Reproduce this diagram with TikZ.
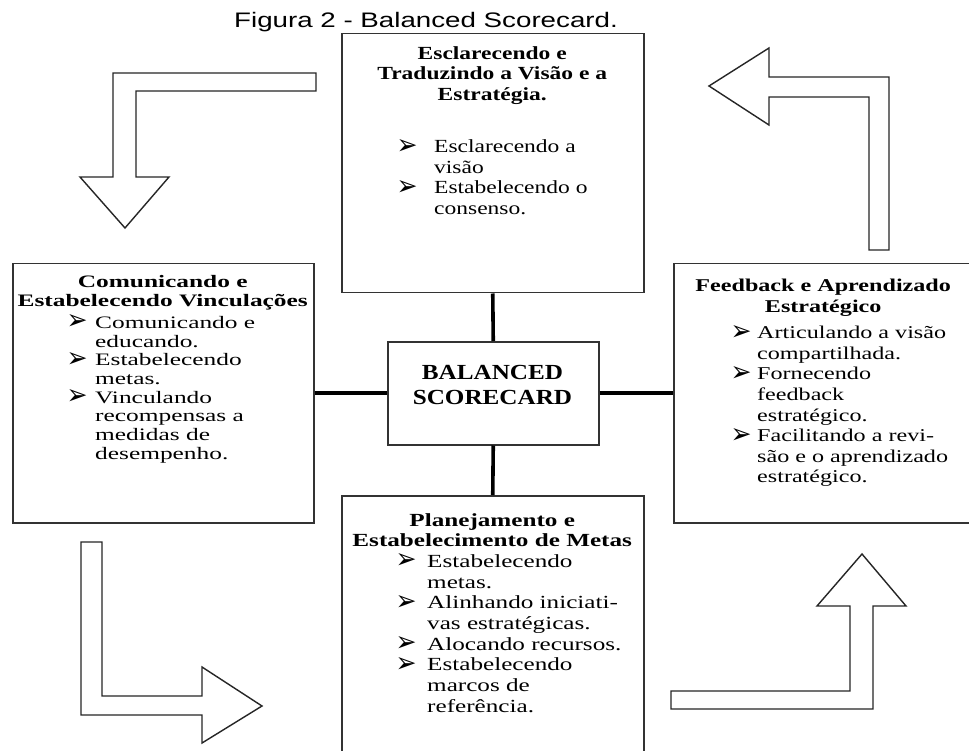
\documentclass[tikz,border=0pt]{standalone}
\usepackage{fontspec}
\setmainfont{Liberation Serif}
\newfontfamily\titlefont{Liberation Sans}[FakeStretch=1.32]
\newfontfamily\topfont{Liberation Serif}[FakeStretch=1.27]
\newfontfamily\leftfont{Liberation Serif}[FakeStretch=1.45]
\newfontfamily\rightfont{Liberation Serif}[FakeStretch=1.34]
\newfontfamily\botfont{Liberation Serif}[FakeStretch=1.36]
\newfontfamily\cenfont{Liberation Serif}[FakeStretch=1.17]
\newfontfamily\bulfont{DejaVu Sans}
\newcommand{\bul}{\smash{\raisebox{-1.5pt}{\resizebox{21pt}{15pt}{\bulfont ➢}}}}
\newcommand{\bi}[1]{\leavevmode\llap{\makebox[#1][l]{\hspace*{-1.5pt}\bul}}}
\begin{document}
\begin{tikzpicture}[x=1pt,y=-1pt,
  box/.style={draw=black!80, line width=1.5pt, rectangle, inner sep=0pt, anchor=north west},
  conn/.style={line width=3.6pt, black},
  blockarrow/.style={draw=black!85, line width=1.4pt, fill=white, line join=miter},
  txt/.style={inner sep=0pt, anchor=base west}]
\useasboundingbox (0,0) rectangle (969,751);
\fill[white] (0,0) rectangle (969,751);
\clip (0,0) rectangle (969,751);

% boxes
\node[box, minimum width=302pt, minimum height=259pt] (vis) at (341,33) {};
\node[box, minimum width=301pt, minimum height=259pt] (com) at (12,263) {};
\node[box, minimum width=300pt, minimum height=259pt] (fee) at (673,263) {};
\node[box, minimum width=302pt, minimum height=280pt] (pla) at (341,495) {};
\node[box, minimum width=211pt, minimum height=103pt] (bsc) at (387,341) {};

% connectors
\draw[conn] (vis.south) -- (bsc.north);
\draw[conn] (bsc.south) -- (pla.north);
\draw[conn] (com.east) -- (bsc.west);
\draw[conn] (bsc.east) -- (fee.west);

% title
\node[inner sep=0pt, anchor=base] (title) at (426,28)
  {\titlefont\fontsize{21pt}{21pt}\selectfont Figura 2 - Balanced Scorecard.};

% center text
\node[inner sep=0pt, anchor=base] (bsct) at (492.5,379)
  {\parbox[t]{211pt}{\centering\cenfont\bfseries\fontsize{21.5pt}{25pt}\selectfont BALANCED\\SCORECARD}};

% top box text
\node[txt] (vist) at (341,59.5) {\parbox[t]{302pt}{\topfont\fontsize{18.5pt}{20.5pt}\selectfont\parindent=0pt
{\centering\bfseries Esclarecendo e\\Traduzindo a Visão e a\\Estratégia.\par}
\vspace{32pt}
{\raggedright\leftskip=93pt
\bi{36pt}Esclarecendo a\\
visão\\
\bi{36pt}Estabelecendo o\\
consenso.\par}}};

% left box text
\node[txt] (comt) at (12,288) {\parbox[t]{301pt}{\leftfont\fontsize{17.5pt}{18.7pt}\selectfont\parindent=0pt
{\centering\bfseries Comunicando e\\Estabelecendo Vinculações\par}
\vspace{3pt}
{\raggedright\leftskip=83pt
\bi{27pt}Comunicando e\\
educando.\\
\bi{27pt}Estabelecendo\\
metas.\\
\bi{27pt}Vinculando\\
recompensas a\\
medidas de\\
desempenho.\par}}};

% right box text
\node[txt] (feet) at (673,291.5) {\parbox[t]{300pt}{\rightfont\fontsize{18pt}{20.6pt}\selectfont\parindent=0pt
{\centering\bfseries Feedback e Aprendizado\\Estratégico\par}
\vspace{6pt}
{\raggedright\leftskip=84pt
\bi{25pt}Articulando a visão\\
compartilhada.\\
\bi{25pt}Fornecendo\\
feedback\\
estratégico.\\
\bi{25pt}Facilitando a revi-\\
são e o aprendizado\\
estratégico.\par}}};

% bottom box text
\node[txt] (plat) at (341,526) {\parbox[t]{302pt}{\botfont\fontsize{18.5pt}{20.7pt}\selectfont\parindent=0pt
{\centering\bfseries Planejamento e\\Estabelecimento de Metas\par}
{\raggedright\leftskip=86pt
\bi{30pt}Estabelecendo\\
metas.\\
\bi{30pt}Alinhando iniciati-\\
vas estratégicas.\\
\bi{30pt}Alocando recursos.\\
\bi{30pt}Estabelecendo\\
marcos de\\
referência.\par}}};

% block arrows
\draw[blockarrow] (316,73) -- (113,73) -- (113,177) -- (80,177) -- (125,228) -- (169,177) -- (136,177) -- (136,91) -- (316,91) -- cycle;
\draw[blockarrow] (889,250) -- (889,77) -- (769,77) -- (769,48) -- (709,86) -- (769,125) -- (769,97) -- (869,97) -- (869,250) -- cycle;
\draw[blockarrow] (81,542) -- (102,542) -- (102,696) -- (202,696) -- (202,667) -- (262,706) -- (202,743) -- (202,715) -- (81,715) -- cycle;
\draw[blockarrow] (671,691) -- (850,691) -- (850,606) -- (817,606) -- (862,554) -- (906,606) -- (873,606) -- (873,709) -- (671,709) -- cycle;
\end{tikzpicture}
\end{document}
